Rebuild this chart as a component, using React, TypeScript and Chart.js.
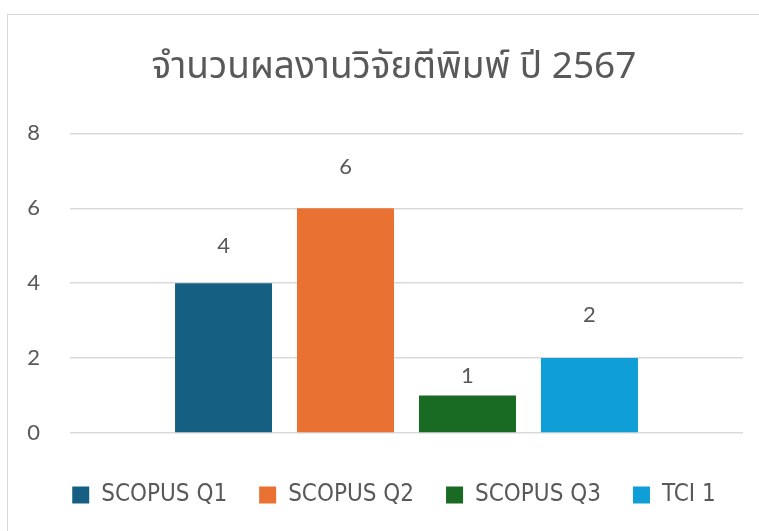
import React, { useEffect, useRef } from "react";
import { Chart, registerables } from "chart.js";

Chart.register(...registerables);

const chartTitle = "จำนวนผลงานวิจัยตีพิมพ์ ปี 2567";
const categories = [""];
const seriesNames = ["SCOPUS Q1", "SCOPUS Q2", "SCOPUS Q3", "TCI 1"];
const seriesValues = [4, 6, 1, 2];
const seriesColors = ["#156082", "#E97132", "#196B24", "#0F9ED5"];
const yTickValues = [0, 2, 4, 6, 8];
// style: distance of each value label's centre above its bar top (px)
const labelOffsets = [37, 41, 20, 43];

const TEXT = "#595959";
const CANVAS_W = 770;
const PAD_LEFT = 18;
const PLOT_LEFT = 70;
const PLOT_RIGHT = 743;

const valueLabels = {
  id: "valueLabels",
  afterDatasetsDraw(chart: any) {
    const ctx = chart.ctx;
    ctx.save();
    ctx.font = "22px Lato, 'Open Sans', sans-serif";
    ctx.fillStyle = TEXT;
    ctx.textAlign = "center";
    ctx.textBaseline = "middle";
    chart.data.datasets.forEach((ds: any, i: number) => {
      const meta = chart.getDatasetMeta(i);
      meta.data.forEach((bar: any, j: number) => {
        ctx.fillText(String(ds.data[j]), bar.x, bar.y - labelOffsets[i]);
      });
    });
    ctx.restore();
  },
};

export default function App() {
  const ref = useRef<HTMLCanvasElement | null>(null);
  useEffect(() => {
    document.body.style.margin = "0";
    document.body.style.overflow = "hidden";
    const chart = new Chart(ref.current as HTMLCanvasElement, {
      type: "bar",
      data: {
        labels: categories,
        datasets: seriesNames.map((name, i) => ({
          label: name,
          data: [seriesValues[i]],
          backgroundColor: seriesColors[i],
          borderWidth: 0,
          categoryPercentage: 0.725,
          barPercentage: 0.795,
          yAxisID: "y",
        })),
      },
      options: {
        animation: false,
        responsive: false,
        layout: { padding: { left: PAD_LEFT, right: 0, top: 14, bottom: 14 } },
        plugins: {
          tooltip: { enabled: false },
          title: {
            display: true,
            text: chartTitle,
            color: TEXT,
            font: { size: 37, weight: "normal", family: "'Noto Sans', 'Noto Sans Thai', Tahoma, sans-serif" },
            padding: { top: 31, bottom: 44 },
          },
          legend: {
            position: "bottom",
            labels: {
              boxWidth: 17,
              boxHeight: 17,
              padding: 32,
              color: TEXT,
              font: { size: 24, family: "'DejaVu Sans Condensed', 'Liberation Sans Narrow', sans-serif" },
            },
          },
        },
        scales: {
          x: {
            display: true,
            ticks: { display: false },
            grid: { display: false, drawTicks: false },
            border: { display: false },
            afterFit: (scale: any) => {
              scale.height = 18;
            },
          },
          y: {
            position: "left",
            min: 0,
            max: 8,
            afterBuildTicks: (scale: any) => {
              scale.ticks = yTickValues.map((v) => ({ value: v }));
            },
            afterFit: (scale: any) => {
              scale.width = PLOT_LEFT - PAD_LEFT;
            },
            ticks: {
              color: TEXT,
              padding: 30,
              font: { size: 22, family: "Lato, 'Open Sans', sans-serif" },
            },
            grid: { color: "#D9D9D9", lineWidth: 1.5, drawTicks: false },
            border: { display: false },
          },
          yRight: {
            position: "right",
            display: true,
            min: 0,
            max: 8,
            ticks: { display: false },
            grid: { display: false, drawTicks: false },
            border: { display: false },
            afterFit: (scale: any) => {
              scale.width = CANVAS_W - PLOT_RIGHT;
            },
          },
        },
      },
      plugins: [valueLabels],
    } as any);
    return () => chart.destroy();
  }, []);
  return (
    <div style={{ position: "relative", width: 759, height: 531, overflow: "hidden" }}>
      <canvas ref={ref} width={CANVAS_W} height={531} style={{ display: "block" }} />
      <div
        style={{
          position: "absolute",
          left: 7,
          top: 14,
          width: 760,
          height: 530,
          borderLeft: "1.5px solid #D9D9D9",
          borderTop: "1.5px solid #D9D9D9",
          pointerEvents: "none",
        }}
      />
    </div>
  );
}
